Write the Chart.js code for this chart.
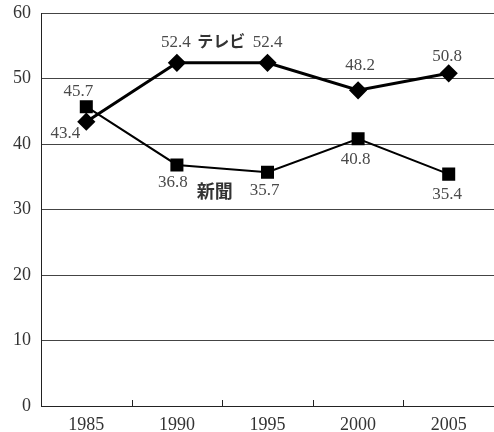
<!DOCTYPE html>
<html>
<head>
<meta charset="utf-8">
<script src="https://cdn.jsdelivr.net/npm/chart.js@4"></script>
<style>
  html, body { margin: 0; padding: 0; background: #fff; }
  #wrap { width: 494px; height: 432px; }
</style>
</head>
<body>
<div id="wrap"><canvas id="c"></canvas></div>
<script>
// Survey years and shares (%) for each medium
const years = ['1985', '1990', '1995', '2000', '2005'];
const tvValues = [43.4, 52.4, 52.4, 48.2, 50.8];
const paperValues = [45.7, 36.8, 35.7, 40.8, 35.4];
const seriesNames = ['テレビ', '新聞'];
const yTicks = [0, 10, 20, 30, 40, 50, 60];

const SERIF = '"Liberation Serif", "DejaVu Serif", serif';
const GOTHIC = '"Noto Sans CJK JP", "Noto Sans", sans-serif';

// Value labels beside each marker plus the series name tags
const labelPlugin = {
  id: 'pointLabels',
  afterDatasetsDraw(chart, args, opts) {
    const ctx = chart.ctx;
    ctx.save();
    ctx.font = '17px ' + SERIF;
    ctx.fillStyle = '#4a4a4a';
    ctx.textBaseline = 'middle';
    ctx.textAlign = 'center';
    chart.data.datasets.forEach((ds, di) => {
      const meta = chart.getDatasetMeta(di);
      const offs = opts.offsets[di];
      meta.data.forEach((pt, i) => {
        ctx.fillText(ds.data[i].toFixed(1), pt.x + offs[i][0], pt.y + offs[i][1]);
      });
    });
    // series name tags, anchored between neighbouring points
    ctx.fillStyle = '#333';
    const xs = chart.scales.x, ys = chart.scales.y;
    const midX = (xs.getPixelForValue(1) + xs.getPixelForValue(2)) / 2;
    ctx.font = 'bold 16px ' + GOTHIC;
    ctx.fillText(seriesNames[0], midX - 1, ys.getPixelForValue(tvValues[1]) - 22);
    ctx.font = 'bold 18px ' + GOTHIC;
    ctx.fillText(seriesNames[1], midX - 7.5, ys.getPixelForValue(paperValues[2]) + 19);
    ctx.restore();
  }
};

// Short inward tick marks on the category axis, between the categories
const innerTicks = {
  id: 'innerTicks',
  afterDraw(chart) {
    const ctx = chart.ctx;
    const xs = chart.scales.x;
    const bottom = chart.chartArea.bottom;
    ctx.save();
    ctx.strokeStyle = '#222';
    ctx.lineWidth = 1;
    for (let i = 1; i < years.length; i++) {
      const x = Math.round((xs.getPixelForValue(i - 1) + xs.getPixelForValue(i)) / 2) + 0.5;
      ctx.beginPath();
      ctx.moveTo(x, bottom);
      ctx.lineTo(x, bottom - 6);
      ctx.stroke();
    }
    ctx.restore();
  }
};

new Chart(document.getElementById('c'), {
  type: 'line',
  data: {
    labels: years,
    datasets: [
      {
        label: seriesNames[0],
        data: tvValues,
        borderColor: '#000',
        backgroundColor: '#000',
        borderWidth: 3,
        pointStyle: 'rectRot',
        pointRadius: 7,
        pointHoverRadius: 7,
        tension: 0
      },
      {
        label: seriesNames[1],
        data: paperValues,
        borderColor: '#000',
        backgroundColor: '#000',
        borderWidth: 2,
        pointStyle: 'rect',
        pointRadius: 7.8,
        pointHoverRadius: 7.8,
        tension: 0
      }
    ]
  },
  options: {
    responsive: true,
    maintainAspectRatio: false,
    animation: false,
    events: [],
    layout: { autoPadding: false, padding: { top: 13, right: 0, bottom: 0, left: 0 } },
    plugins: {
      legend: { display: false },
      tooltip: { enabled: false },
      pointLabels: {
        offsets: [
          [[-21, 12], [-1, -20], [0, -20], [2, -25], [-1.5, -17]],
          [[-8, -15], [-4, 18], [-3, 18], [-2.5, 21], [-1.5, 20]]
        ]
      }
    },
    scales: {
      x: {
        type: 'category',
        offset: true,
        grid: { display: false, drawTicks: false },
        border: { display: true, color: '#222', width: 1 },
        ticks: {
          color: '#333',
          font: { family: SERIF, size: 18 },
          padding: 8,
          maxRotation: 0
        },
        afterFit(scale) {
          scale.height = 26;
          scale.paddingLeft = 0;
          scale.paddingRight = 0;
        }
      },
      y: {
        min: 0,
        max: 60,
        afterBuildTicks(scale) { scale.ticks = yTicks.map(v => ({ value: v })); },
        grid: {
          color: '#444',
          lineWidth: 1,
          drawTicks: false
        },
        border: { display: true, color: '#222', width: 1 },
        ticks: {
          color: '#333',
          font: { family: SERIF, size: 18 },
          padding: 10
        },
        afterFit(scale) {
          scale.width = 41;
          scale.paddingTop = 0;
          scale.paddingBottom = 0;
        }
      }
    }
  },
  plugins: [labelPlugin, innerTicks]
});
</script>
</body>
</html>
